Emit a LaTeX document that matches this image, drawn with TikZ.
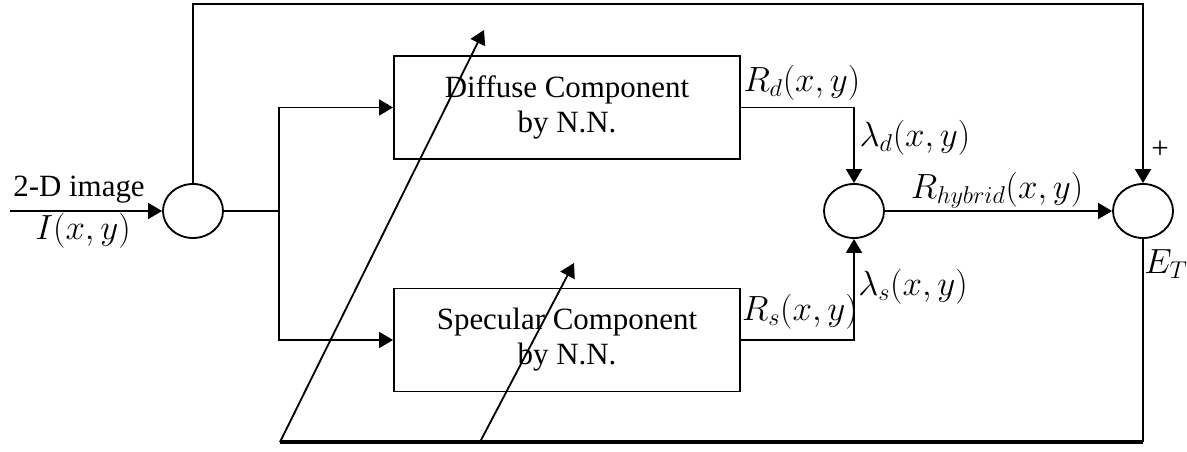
\documentclass[tikz,border=0pt]{standalone}
\usepackage{fontspec}
\setmainfont{Liberation Serif}
\usetikzlibrary{arrows.meta,shapes.geometric}
\begin{document}
\begin{tikzpicture}[x=0.025cm, y=-0.025cm,
        font=\fontsize{22}{25}\selectfont,
        line width=1.3pt,
        >={Triangle[length=0.35cm, width=0.4cm]},
        sumnode/.style={draw, ellipse, minimum width=1.5cm, minimum height=1.35cm, inner sep=0pt},
        nnbox/.style={draw, rectangle, minimum width=8.65cm, minimum height=2.575cm, align=center, inner sep=0pt},
        sig/.style={font=\fontsize{25}{28}\selectfont}]
        \useasboundingbox (0,0) rectangle (1187,452);

        \node[sumnode] (in) at (193,211) {};
        \node[sumnode] (mix) at (854,211) {};
        \node[sumnode] (err) at (1143,211) {};
        \node[nnbox] (diff) at (567,107.5) {Diffuse Component\\by N.N.};
        \node[nnbox] (spec) at (567,340) {Specular Component\\by N.N.};

        \coordinate (src) at (10,211);
        \coordinate (split) at (279,211);
        \coordinate (top) at (0,4);
        \coordinate (bot) at (0,442);
        \coordinate (fbA) at (280,442);
        \coordinate (fbB) at (480,442);
        \coordinate (tipA) at (484,30);
        \coordinate (tipB) at (574,263);

        \draw[->] (src) -- (in);
        \draw (in.east) -- (split);
        \draw[->] (split) |- (diff.west);
        \draw[->] (split) |- (spec.west);
        \draw[->] (diff.east) -| (mix.north);
        \draw[->] (spec.east) -| (mix.south);
        \draw[->] (mix) -- (err);
        \draw[->] (in.north) -- (in.north |- top) -- (err.north |- top) -- (err.north);
        \draw (err.south) -- (err.south |- bot);
        \draw[line width=2.6pt] (err.south |- bot) -- (fbA);
        \draw[->] (fbA) -- (tipA);
        \draw[->] (fbB) -- (tipB);

        \node (lblimg) at (79,190) {2-D image};
        \node[sig] (lblin) at (83,231) {$I(x,y)$};
        \node[sig] (lblRd) at (802,83) {$R_d(x,y)$};
        \node[sig] (lblld) at (915,138) {$\lambda_d(x,y)$};
        \node[sig] (lblRh) at (997,190) {$R_{hybrid}(x,y)$};
        \node[sig] (lblls) at (913,287) {$\lambda_s(x,y)$};
        \node[sig] (lblRs) at (800,312) {$R_s(x,y)$};
        \node[sig] (lblET) at (1166,264) {$E_T$};
        \node (lblplus) at (1160,150) {+};
\end{tikzpicture}
\end{document}
